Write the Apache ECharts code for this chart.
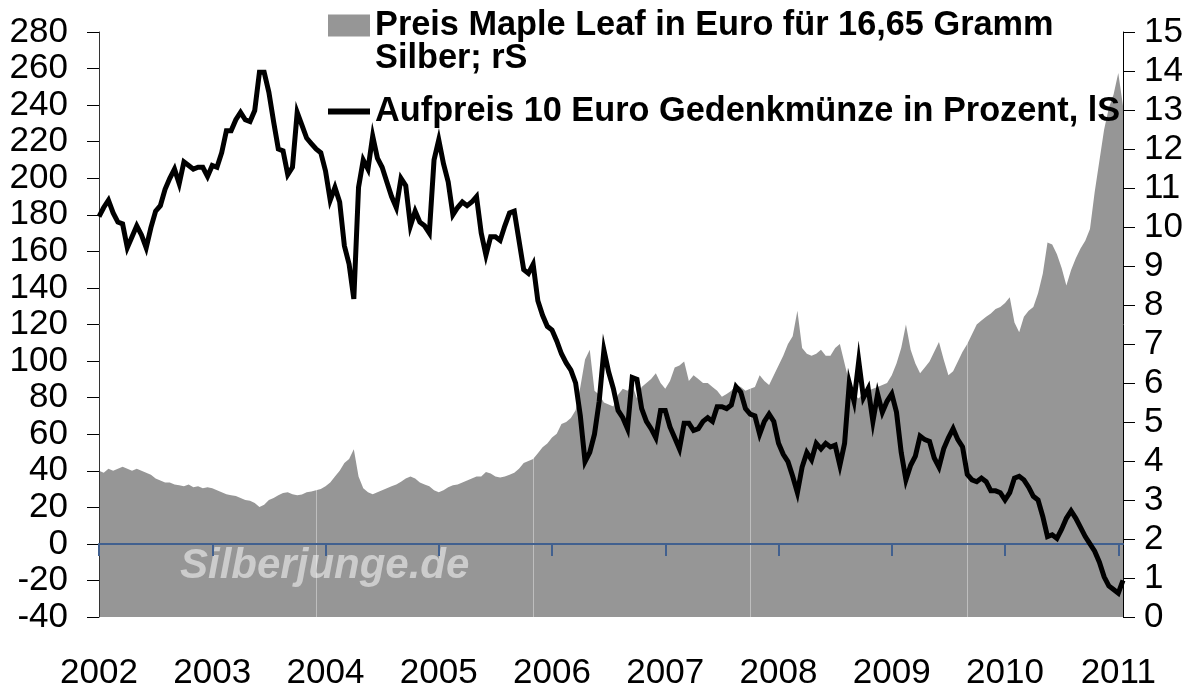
<!DOCTYPE html>
<html>
<head>
<meta charset="utf-8">
<script src="https://cdn.jsdelivr.net/npm/echarts@6/dist/echarts.min.js"></script>
<style>
  html, body { margin: 0; padding: 0; background: #fff; }
  #chart { width: 1196px; height: 690px; }
</style>
</head>
<body>
<div id="chart"></div>
<script>
// Semi-monthly sample dates, Jan 2002 - mid Jan 2011
const dates = [];
for (let y = 2002; y <= 2010; y++) {
  for (let m = 1; m <= 12; m++) {
    const mm = (m < 10 ? '0' : '') + m;
    dates.push(y + '-' + mm + '-01', y + '-' + mm + '-16');
  }
}
dates.push('2011-01-01', '2011-01-16');

// Aufpreis 10 Euro Gedenkmünze in Prozent (left axis)
const aufpreis = [
  179,184,188,181,176,175,162,168,174,169,162,173,182,185,194,200,205,197,209,207,205,206,206,201,
  207,206,214,226,226,232,236,232,231,237,258,258,247,231,216,215,202,206,236,229,222,219,216,214,
  204,188,195,187,163,153,134,195,210,205,223,211,206,198,190,184,200,196,174,182,176,174,170,210,
  221,208,198,180,184,187,185,187,190,170,158,168,168,166,174,181,182,166,150,148,153,133,125,119,
  117,111,104,99,95,88,70,45,50,60,78,106,94,85,73,69,63,91,90,74,67,63,58,73,
  73,64,58,52,66,66,62,63,67,69,67,75,75,74,76,86,83,74,71,70,60,67,71,67,
  55,49,45,37,28,42,50,46,55,52,55,53,54,43,55,88,78,100,80,85,67,82,72,78,
  82,72,50,35,43,48,59,57,56,47,42,52,58,63,57,53,38,35,34,36,34,29,29,28,
  24,28,36,37,35,31,26,24,15,4,5,3,8,14,18,14,9,4,0,-4,-10,-18,-23,-25,
  -27,-20
];

// Preis Maple Leaf in Euro (right axis)
const maplePreis = [
  3.75,3.7,3.8,3.75,3.8,3.85,3.8,3.75,3.8,3.75,3.7,3.65,3.55,3.5,3.45,3.45,3.4,3.38,3.35,3.4,3.33,3.35,3.3,3.33,
  3.3,3.25,3.2,3.15,3.12,3.1,3.05,3.0,2.98,2.92,2.82,2.88,3.0,3.05,3.12,3.18,3.2,3.15,3.12,3.14,3.2,3.22,3.25,3.28,
  3.35,3.45,3.6,3.75,3.95,4.05,4.3,3.6,3.3,3.2,3.15,3.2,3.25,3.3,3.35,3.4,3.47,3.55,3.6,3.55,3.45,3.4,3.35,3.25,
  3.2,3.25,3.33,3.38,3.4,3.45,3.5,3.55,3.6,3.6,3.72,3.68,3.6,3.58,3.6,3.65,3.7,3.8,3.95,4.0,4.05,4.2,4.35,4.45,
  4.6,4.7,4.95,5.0,5.1,5.3,5.9,6.6,6.85,5.8,5.7,5.5,5.45,5.4,5.7,5.85,5.8,5.95,5.6,5.9,6.0,6.1,6.25,6.0,
  5.85,6.05,6.4,6.45,6.55,6.05,6.2,6.1,6.0,6.0,5.9,5.8,5.65,5.72,5.8,5.95,5.9,5.8,5.85,5.9,6.2,6.05,5.95,6.2,
  6.45,6.7,7.0,7.2,7.85,6.9,6.75,6.7,6.75,6.85,6.7,6.7,6.9,7.0,6.5,6.0,5.7,5.6,5.75,5.8,5.85,5.9,5.95,6.0,
  6.2,6.5,6.9,7.5,6.85,6.5,6.25,6.4,6.55,6.8,7.05,6.6,6.2,6.3,6.55,6.8,7.0,7.25,7.5,7.6,7.7,7.78,7.9,7.95,
  8.05,8.2,7.55,7.3,7.7,7.85,7.95,8.3,8.8,9.6,9.55,9.3,8.95,8.5,8.9,9.2,9.45,9.65,9.95,10.9,11.7,12.5,13.05,13.4,
  13.95,13.1
];

const nameMaple = 'Preis Maple Leaf in Euro für 16,65 Gramm\nSilber; rS';
const nameAufpreis = 'Aufpreis 10 Euro Gedenkmünze in Prozent, lS';
const FONT = '"Liberation Sans", Arial, sans-serif';

const isYearStart = (i, v) => /-01-01$/.test(v);

const chart = echarts.init(document.getElementById('chart'), null, { renderer: 'canvas' });
chart.setOption({
  animation: false,
  backgroundColor: '#ffffff',
  textStyle: { fontFamily: FONT },
  grid: { left: 99, right: 73, top: 32, bottom: 73, containLabel: false, outerBoundsMode: 'none' },
  legend: {
    orient: 'vertical',
    left: 325,
    top: -24.5,
    padding: 0,
    itemWidth: 42,
    itemHeight: 22,
    itemGap: 19,
    selectedMode: false,
    formatter: name => (name === nameMaple ? '\n' + name : name),
    textStyle: { fontSize: 34.3, fontWeight: 'bold', color: '#000', fontFamily: FONT, lineHeight: 33 },
    data: [
      { name: nameMaple, icon: 'rect' },
      { name: nameAufpreis, itemStyle: { opacity: 0 }, lineStyle: { width: 6 } }
    ]
  },
  xAxis: {
    type: 'category',
    data: dates,
    boundaryGap: false,
    z: 3,
    axisLine: { onZero: true, onZeroAxisIndex: 0, lineStyle: { color: '#41608f', width: 2 } },
    axisTick: { show: true, interval: isYearStart, length: 12, lineStyle: { color: '#41608f', width: 2 } },
    axisLabel: {
      interval: isYearStart,
      formatter: v => v.slice(0, 4),
      margin: 41,
      fontSize: 35,
      lineHeight: 30,
      color: '#000',
      fontFamily: FONT
    },
    splitLine: {
      show: true,
      interval: (i) => i > 0 && i % 46 === 0,
      lineStyle: { color: 'rgba(255,255,255,0.38)', width: 1 }
    }
  },
  yAxis: [
    {
      type: 'value', min: -40, max: 280, interval: 20, position: 'left', z: 3,
      axisLine: { show: true, lineStyle: { color: '#333', width: 1 } },
      axisTick: { show: true, length: 12, lineStyle: { color: '#000', width: 1 } },
      axisLabel: { fontSize: 35, color: '#000', margin: 31, fontFamily: FONT, showMinLabel: true, showMaxLabel: true, hideOverlap: false },
      splitLine: { show: false }
    },
    {
      type: 'value', min: 0, max: 15, interval: 1, position: 'right', z: 3,
      axisLine: { show: true, lineStyle: { color: '#000', width: 1 } },
      axisTick: { show: true, length: 12, lineStyle: { color: '#000', width: 1 } },
      axisLabel: { fontSize: 35, color: '#000', margin: 21, fontFamily: FONT, showMinLabel: true, showMaxLabel: true, hideOverlap: false },
      splitLine: { show: false }
    }
  ],
  graphic: [
    {
      type: 'text', left: 180, top: 545, z: 2.5,
      style: { text: 'Silberjunge.de', font: 'italic bold 42px "Liberation Sans", Arial, sans-serif', fill: '#cccccc' }
    }
  ],
  series: [
    {
      name: nameMaple,
      type: 'line',
      yAxisIndex: 1,
      data: maplePreis,
      symbol: 'none',
      color: '#969696',
      lineStyle: { width: 0 },
      areaStyle: { color: '#969696', opacity: 1 },
      z: 2
    },
    {
      name: nameAufpreis,
      type: 'line',
      yAxisIndex: 0,
      data: aufpreis,
      symbol: 'none',
      color: '#000',
      lineStyle: { width: 5, color: '#000', join: 'miter' },
      z: 4
    }
  ]
});
</script>
</body>
</html>
